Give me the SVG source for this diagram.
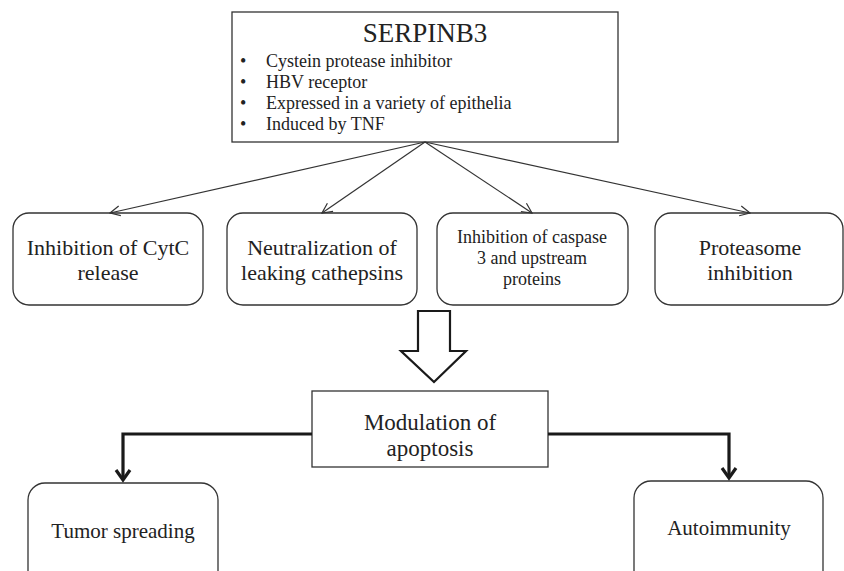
<svg xmlns="http://www.w3.org/2000/svg" width="844" height="571" viewBox="0 0 844 571">
<defs>
<style>
.box{fill:#fff;stroke:#333;stroke-width:1.3}
.t{font-family:'Liberation Serif','DejaVu Serif',serif;fill:#222;text-anchor:middle}
.tl{font-family:'Liberation Serif','DejaVu Serif',serif;fill:#222}
.thin{stroke:#333;stroke-width:1.2;fill:none}
.thick{stroke:#1a1a1a;stroke-width:3.2;fill:none;stroke-linejoin:miter}
</style>
<marker id="open" viewBox="0 0 12 12" refX="11" refY="6" markerWidth="12" markerHeight="12" markerUnits="userSpaceOnUse" orient="auto">
<path d="M1,1 L11,6 L1,11" fill="none" stroke="#333" stroke-width="1.2"/>
</marker>
</defs>
<rect width="844" height="571" fill="#fff"/>

<g id="serpinb3">
<rect class="box" x="232" y="12" width="386" height="130"/>
<text class="t" x="425" y="42" font-size="27">SERPINB3</text>
<g class="tl" font-size="18">
<text x="240" y="67">•</text><text x="266" y="67">Cystein protease inhibitor</text>
<text x="240" y="88">•</text><text x="266" y="88">HBV receptor</text>
<text x="240" y="109">•</text><text x="266" y="109">Expressed in a variety of epithelia</text>
<text x="240" y="130">•</text><text x="266" y="130">Induced by TNF</text>
</g>
</g>

<g id="cytc">
<rect class="box" x="13" y="213" width="190" height="92" rx="16"/>
<text class="t" x="108" y="255" font-size="22">Inhibition of CytC</text>
<text class="t" x="108" y="280" font-size="22">release</text>
</g>
<g id="cathepsins">
<rect class="box" x="227" y="213" width="190" height="92" rx="16"/>
<text class="t" x="322" y="255" font-size="22">Neutralization of</text>
<text class="t" x="322" y="280" font-size="22">leaking cathepsins</text>
</g>
<g id="caspase">
<rect class="box" x="437" y="213" width="191" height="92" rx="16"/>
<text class="t" x="532" y="243" font-size="18">Inhibition of caspase</text>
<text class="t" x="532" y="264" font-size="18">3 and upstream</text>
<text class="t" x="532" y="285" font-size="18">proteins</text>
</g>
<g id="proteasome">
<rect class="box" x="655" y="213" width="188" height="92" rx="16"/>
<text class="t" x="750" y="255" font-size="22">Proteasome</text>
<text class="t" x="750" y="280" font-size="22">inhibition</text>
</g>

<g id="modulation">
<rect class="box" x="312" y="391" width="236" height="76"/>
<text class="t" x="430" y="430" font-size="23">Modulation of</text>
<text class="t" x="430" y="456" font-size="23">apoptosis</text>
</g>
<g id="tumor">
<rect class="box" x="28" y="483" width="190" height="110" rx="17"/>
<text class="t" x="123" y="538" font-size="21">Tumor spreading</text>
</g>
<g id="autoimmunity">
<rect class="box" x="634" y="481" width="189" height="110" rx="17"/>
<text class="t" x="729" y="535" font-size="21">Autoimmunity</text>
</g>

<g id="connectors">
<line class="thin" x1="425" y1="142" x2="110" y2="213" marker-end="url(#open)"/>
<line class="thin" x1="425" y1="142" x2="322" y2="213" marker-end="url(#open)"/>
<line class="thin" x1="425" y1="142" x2="532" y2="213" marker-end="url(#open)"/>
<line class="thin" x1="425" y1="142" x2="750" y2="213" marker-end="url(#open)"/>
<path d="M418,311 L450,311 L450,351 L466,351 L434,382 L401,351 L418,351 Z" fill="#fff" stroke="#1a1a1a" stroke-width="2.2" stroke-linejoin="miter"/>
<path class="thick" d="M312,434 L123,434 L123,480"/>
<path class="thick" d="M116,470 L123,480 L130,470"/>
<path class="thick" d="M548,434 L729,434 L729,478"/>
<path class="thick" d="M722,468 L729,478 L736,468"/>
</g>
</svg>
